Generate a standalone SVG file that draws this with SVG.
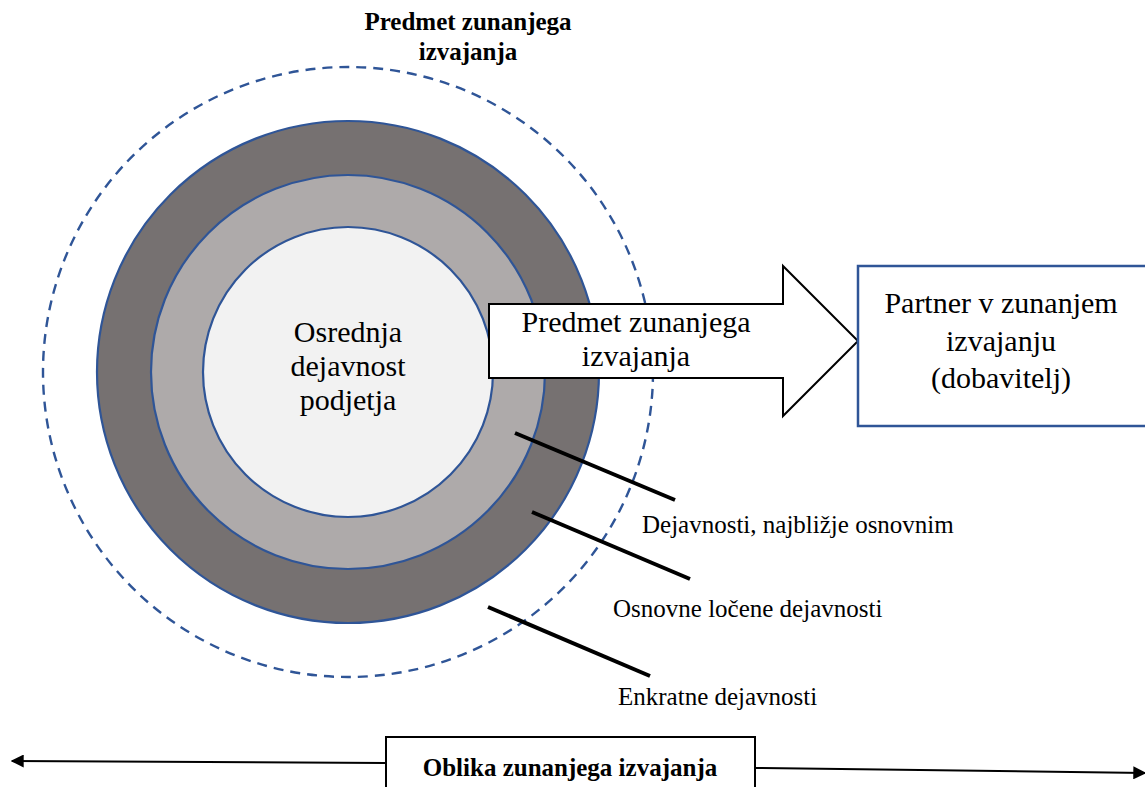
<svg xmlns="http://www.w3.org/2000/svg" width="1145" height="787" viewBox="0 0 1145 787">
<style>
.t{font-family:"Liberation Serif","Times New Roman",serif;fill:#000}
.b{font-weight:bold}
.ring{stroke:#2F5597;stroke-width:2.2}
.ptr{stroke:#000;stroke-width:4;fill:none}
</style>
<defs>
<marker id="ah" viewBox="0 0 10 10" refX="9" refY="5" markerWidth="13" markerHeight="13" markerUnits="userSpaceOnUse" orient="auto">
<path d="M0,0 L10,5 L0,10 z" fill="#000"/>
</marker>
</defs>
<rect width="1145" height="787" fill="#fff"/>
<g id="title">
<text class="t b" x="468" y="30" font-size="25" text-anchor="middle">Predmet zunanjega</text>
<text class="t b" x="468" y="60" font-size="25" text-anchor="middle">izvajanja</text>
</g>
<g id="boundary">
<circle cx="348" cy="372" r="305" fill="none" stroke="#2F5597" stroke-width="2.4" stroke-dasharray="10,7"/>
</g>
<g id="rings">
<circle class="ring" cx="348" cy="372" r="251" fill="#767171"/>
<circle class="ring" cx="348" cy="372" r="197" fill="#AEAAAA"/>
<circle class="ring" cx="348" cy="372" r="145" fill="#F2F2F2"/>
<text class="t" x="348" y="342" font-size="30" text-anchor="middle">Osrednja</text>
<text class="t" x="348" y="376" font-size="30" text-anchor="middle">dejavnost</text>
<text class="t" x="348" y="410" font-size="30" text-anchor="middle">podjetja</text>
</g>
<g id="subject-arrow">
<polygon points="489,304 783,304 783,266 858,341 783,416 783,378 489,378" fill="#fff" stroke="#000" stroke-width="2"/>
<text class="t" x="636" y="332" font-size="30" text-anchor="middle">Predmet zunanjega</text>
<text class="t" x="636" y="366" font-size="30" text-anchor="middle">izvajanja</text>
</g>
<g id="partner">
<rect x="858" y="266" width="300" height="160" fill="#fff" stroke="#2F5597" stroke-width="2.5"/>
<text class="t" x="1001" y="313" font-size="30" text-anchor="middle">Partner v zunanjem</text>
<text class="t" x="1001" y="351" font-size="30" text-anchor="middle">izvajanju</text>
<text class="t" x="1001" y="388" font-size="30" text-anchor="middle">(dobavitelj)</text>
</g>
<g id="connectors">
<line class="ptr" x1="515" y1="433" x2="675" y2="500"/>
<line class="ptr" x1="532" y1="512" x2="690" y2="579"/>
<line class="ptr" x1="488" y1="607" x2="650" y2="676"/>
<line x1="386" y1="763" x2="12" y2="761" stroke="#000" stroke-width="2" marker-end="url(#ah)"/>
<line x1="755" y1="768" x2="1145" y2="773" stroke="#000" stroke-width="2" marker-end="url(#ah)"/>
</g>
<g id="labels">
<text class="t" x="642" y="533" font-size="25">Dejavnosti, najbližje osnovnim</text>
<text class="t" x="613" y="617" font-size="25">Osnovne ločene dejavnosti</text>
<text class="t" x="618" y="705" font-size="25">Enkratne dejavnosti</text>
</g>
<g id="form-box">
<rect x="386" y="737" width="369" height="70" fill="#fff" stroke="#000" stroke-width="2"/>
<text class="t b" x="570" y="776" font-size="25" text-anchor="middle">Oblika zunanjega izvajanja</text>
</g>
</svg>
